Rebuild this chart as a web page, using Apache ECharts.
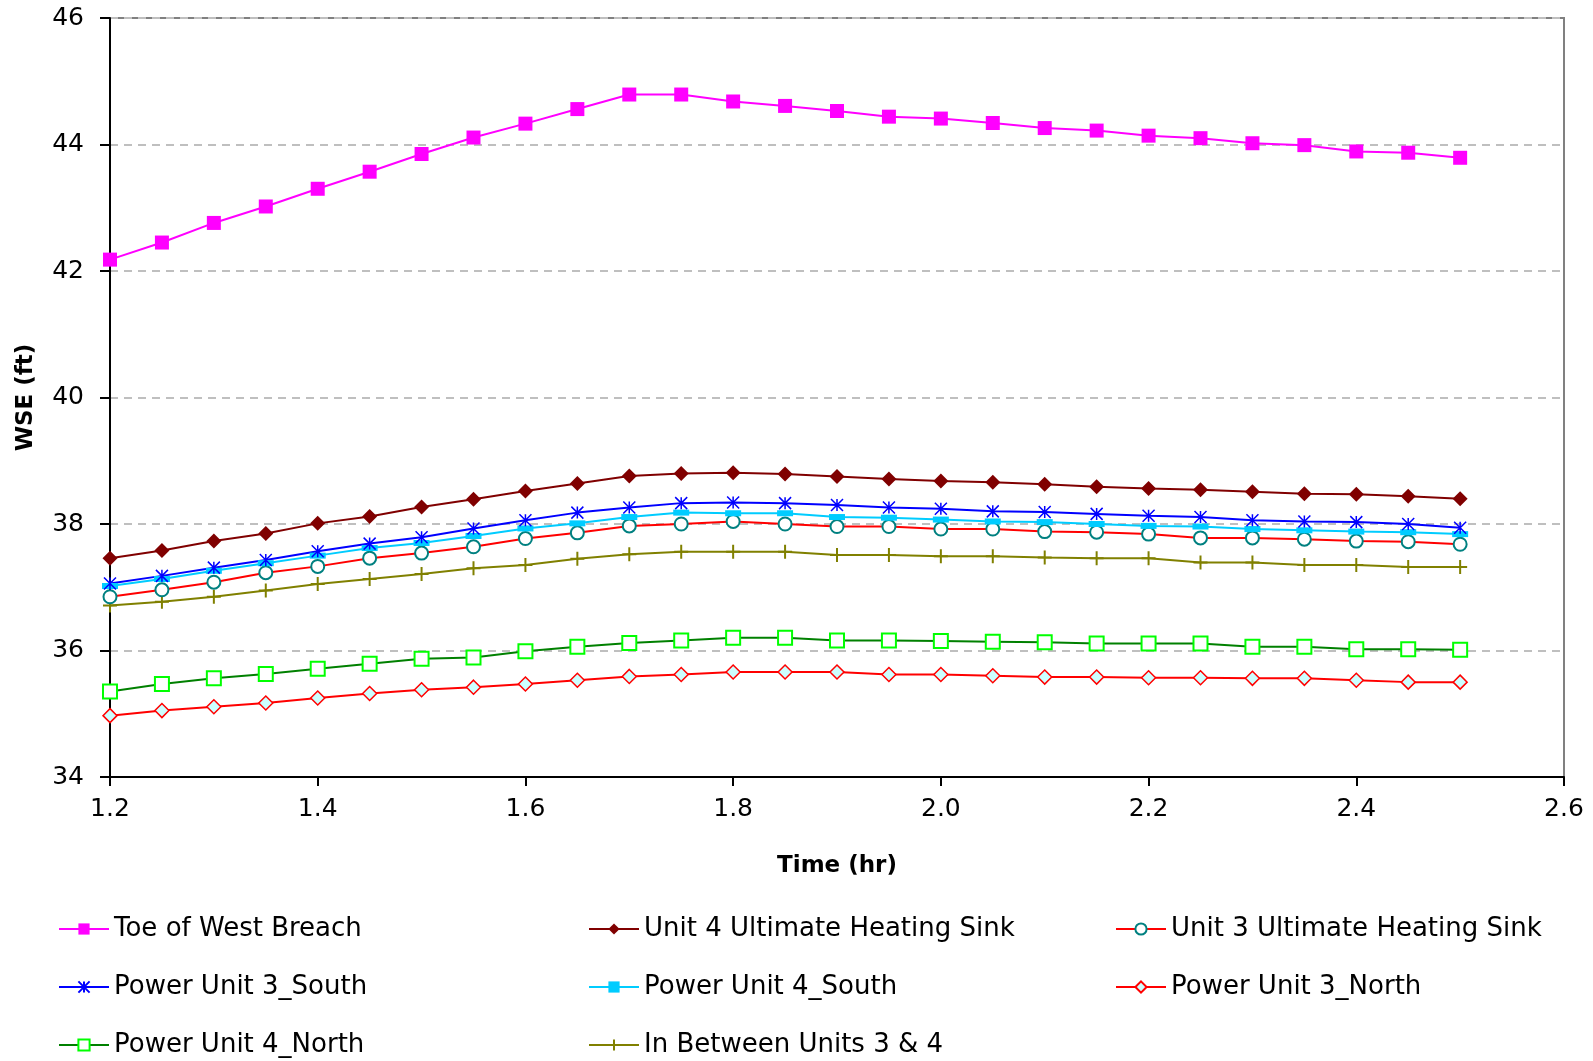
<!DOCTYPE html>
<html>
<head>
<meta charset="utf-8">
<script src="https://cdn.jsdelivr.net/npm/echarts@6/dist/echarts.min.js"></script>
<style>
html,body{margin:0;padding:0;background:#fff;}
#chart{width:1593px;height:1061px;}
</style>
</head>
<body>
<div id="chart"></div>
<script>
var time = [1.2,1.25,1.3,1.35,1.4,1.45,1.5,1.55,1.6,1.65,1.7,1.75,1.8,1.85,1.9,1.95,2.0,2.05,2.1,2.15,2.2,2.25,2.3,2.35,2.4,2.45,2.5];
var xTicks = [1.2,1.4,1.6,1.8,2.0,2.2,2.4,2.6];
var yTicks = [34,36,38,40,42,44,46];

var toeWestBreach = [42.18,42.45,42.76,43.02,43.30,43.57,43.85,44.11,44.33,44.56,44.79,44.79,44.68,44.61,44.53,44.44,44.41,44.34,44.26,44.22,44.14,44.10,44.02,43.99,43.89,43.87,43.79];
var unit4UHS = [37.46,37.58,37.73,37.85,38.01,38.12,38.27,38.39,38.52,38.64,38.76,38.80,38.81,38.79,38.75,38.71,38.68,38.66,38.63,38.59,38.56,38.54,38.51,38.48,38.47,38.44,38.40];
var unit3UHS = [36.85,36.96,37.08,37.23,37.33,37.46,37.54,37.64,37.77,37.86,37.97,38.00,38.04,38.00,37.96,37.96,37.92,37.92,37.88,37.87,37.84,37.78,37.78,37.76,37.73,37.72,37.68];
var pu3South = [37.06,37.18,37.31,37.43,37.57,37.69,37.79,37.93,38.06,38.18,38.26,38.33,38.34,38.33,38.30,38.26,38.24,38.20,38.19,38.16,38.13,38.11,38.06,38.04,38.03,38.00,37.94];
var pu4South = [37.02,37.13,37.26,37.38,37.50,37.62,37.70,37.81,37.93,38.01,38.11,38.18,38.17,38.17,38.11,38.10,38.07,38.04,38.03,38.00,37.97,37.96,37.92,37.90,37.88,37.87,37.84];
var pu3North = [34.97,35.05,35.11,35.17,35.25,35.32,35.38,35.42,35.47,35.53,35.59,35.62,35.66,35.66,35.66,35.62,35.62,35.60,35.58,35.58,35.57,35.57,35.56,35.56,35.53,35.50,35.50];
var pu4North = [35.35,35.47,35.56,35.63,35.71,35.79,35.87,35.89,35.99,36.06,36.12,36.16,36.20,36.20,36.16,36.16,36.15,36.14,36.13,36.11,36.11,36.11,36.06,36.06,36.02,36.02,36.01];
var inBetween = [36.71,36.77,36.85,36.95,37.05,37.13,37.21,37.30,37.35,37.45,37.52,37.56,37.56,37.56,37.51,37.51,37.49,37.49,37.47,37.46,37.46,37.39,37.39,37.35,37.35,37.32,37.32];

var names = ['Toe of West Breach','Unit 4 Ultimate Heating Sink','Unit 3 Ultimate Heating Sink','Power Unit 3_South','Power Unit 4_South','Power Unit 3_North','Power Unit 4_North','In Between Units 3 & 4'];

function pairs(arr){ return time.map(function(t,i){ return [t, arr[i]]; }); }

var FONT = '"DejaVu Sans", Arial, sans-serif';

function mk(name, arr, lineColor, symbol, size, itemStyle, z){
  return {
    name: name, type: 'line', data: pairs(arr),
    symbol: symbol, symbolSize: size, showSymbol: true,
    lineStyle: {color: lineColor, width: 2},
    itemStyle: itemStyle,
    color: lineColor,
    z: z || 2,
    animation: false
  };
}

var series = [
  mk(names[7], inBetween, '#808000', 'path://M5,0L5,10M0,5L10,5', 14, {color: 'none', borderColor: '#808000', borderWidth: 2}),
  mk(names[5], pu3North, '#FF0000', 'diamond', 14, {color: '#CCFFFF', borderColor: '#FF0000', borderWidth: 1.5}),
  mk(names[6], pu4North, '#008000', 'rect', 14, {color: '#FFFFFF', borderColor: '#00FF00', borderWidth: 2}),
  mk(names[2], unit3UHS, '#FF0000', 'circle', 13, {color: '#FFFFFF', borderColor: '#008080', borderWidth: 2}),
  mk(names[4], pu4South, '#00CCFF', 'rect', [16,6], {color: '#00CCFF'}),
  mk(names[3], pu3South, '#0000FF', 'path://M0,0L10,10M10,0L0,10M5,0L5,10', 12, {color: 'none', borderColor: '#0000FF', borderWidth: 1.5}),
  mk(names[1], unit4UHS, '#800000', 'diamond', 15, {color: '#800000'}),
  mk(names[0], toeWestBreach, '#FF00FF', 'rect', 14, {color: '#FF00FF'})
];

function legendCol(left, data){
  return {
    orient: 'vertical', left: left, top: 915, height: 146, padding: 0,
    data: data, itemWidth: 50, itemHeight: 14, itemGap: 30,
    textStyle: {fontFamily: FONT, fontSize: 26, color: '#000', lineHeight: 28, padding: [0,0,0,0]},
    selectedMode: false
  };
}

var chart = echarts.init(document.getElementById('chart'));
chart.setOption({
  animation: false,
  backgroundColor: '#ffffff',
  grid: {left: 110, right: 29, top: 18, bottom: 284, containLabel: false, outerBoundsMode: 'none', show: true, borderColor: '#808080', borderWidth: 2, backgroundColor: 'transparent'},
  xAxis: {
    type: 'value', min: xTicks[0], max: xTicks[xTicks.length-1], interval: 0.2,
    name: 'Time (hr)', nameLocation: 'middle', nameGap: 78,
    nameTextStyle: {fontFamily: FONT, fontSize: 23, fontWeight: 'bold', color: '#000'},
    axisLine: {lineStyle: {color: '#000', width: 2}},
    axisTick: {inside: false, length: 9, lineStyle: {color: '#000', width: 2}},
    axisLabel: {fontFamily: FONT, fontSize: 25, color: '#000', margin: 20, formatter: function(v){ return v.toFixed(1); }},
    splitLine: {show: false}
  },
  yAxis: {
    type: 'value', min: yTicks[0], max: yTicks[yTicks.length-1], interval: 2,
    name: 'WSE (ft)', nameLocation: 'middle', nameGap: 72, nameRotate: 90,
    nameTextStyle: {fontFamily: FONT, fontSize: 23, fontWeight: 'bold', color: '#000'},
    axisLine: {show: true, lineStyle: {color: '#000', width: 2}},
    axisTick: {show: true, inside: false, length: 10, lineStyle: {color: '#000', width: 2}},
    axisLabel: {fontFamily: FONT, fontSize: 25, color: '#000', margin: 26},
    splitLine: {show: true, lineStyle: {color: '#BFBFBF', type: [8,6], width: 2}}
  },
  legend: [
    legendCol(58, [names[0], names[3], names[6]]),
    legendCol(588, [names[1], names[4], names[7]]),
    legendCol(1115, [names[2], names[5]])
  ],
  series: series
});
</script>
</body>
</html>
